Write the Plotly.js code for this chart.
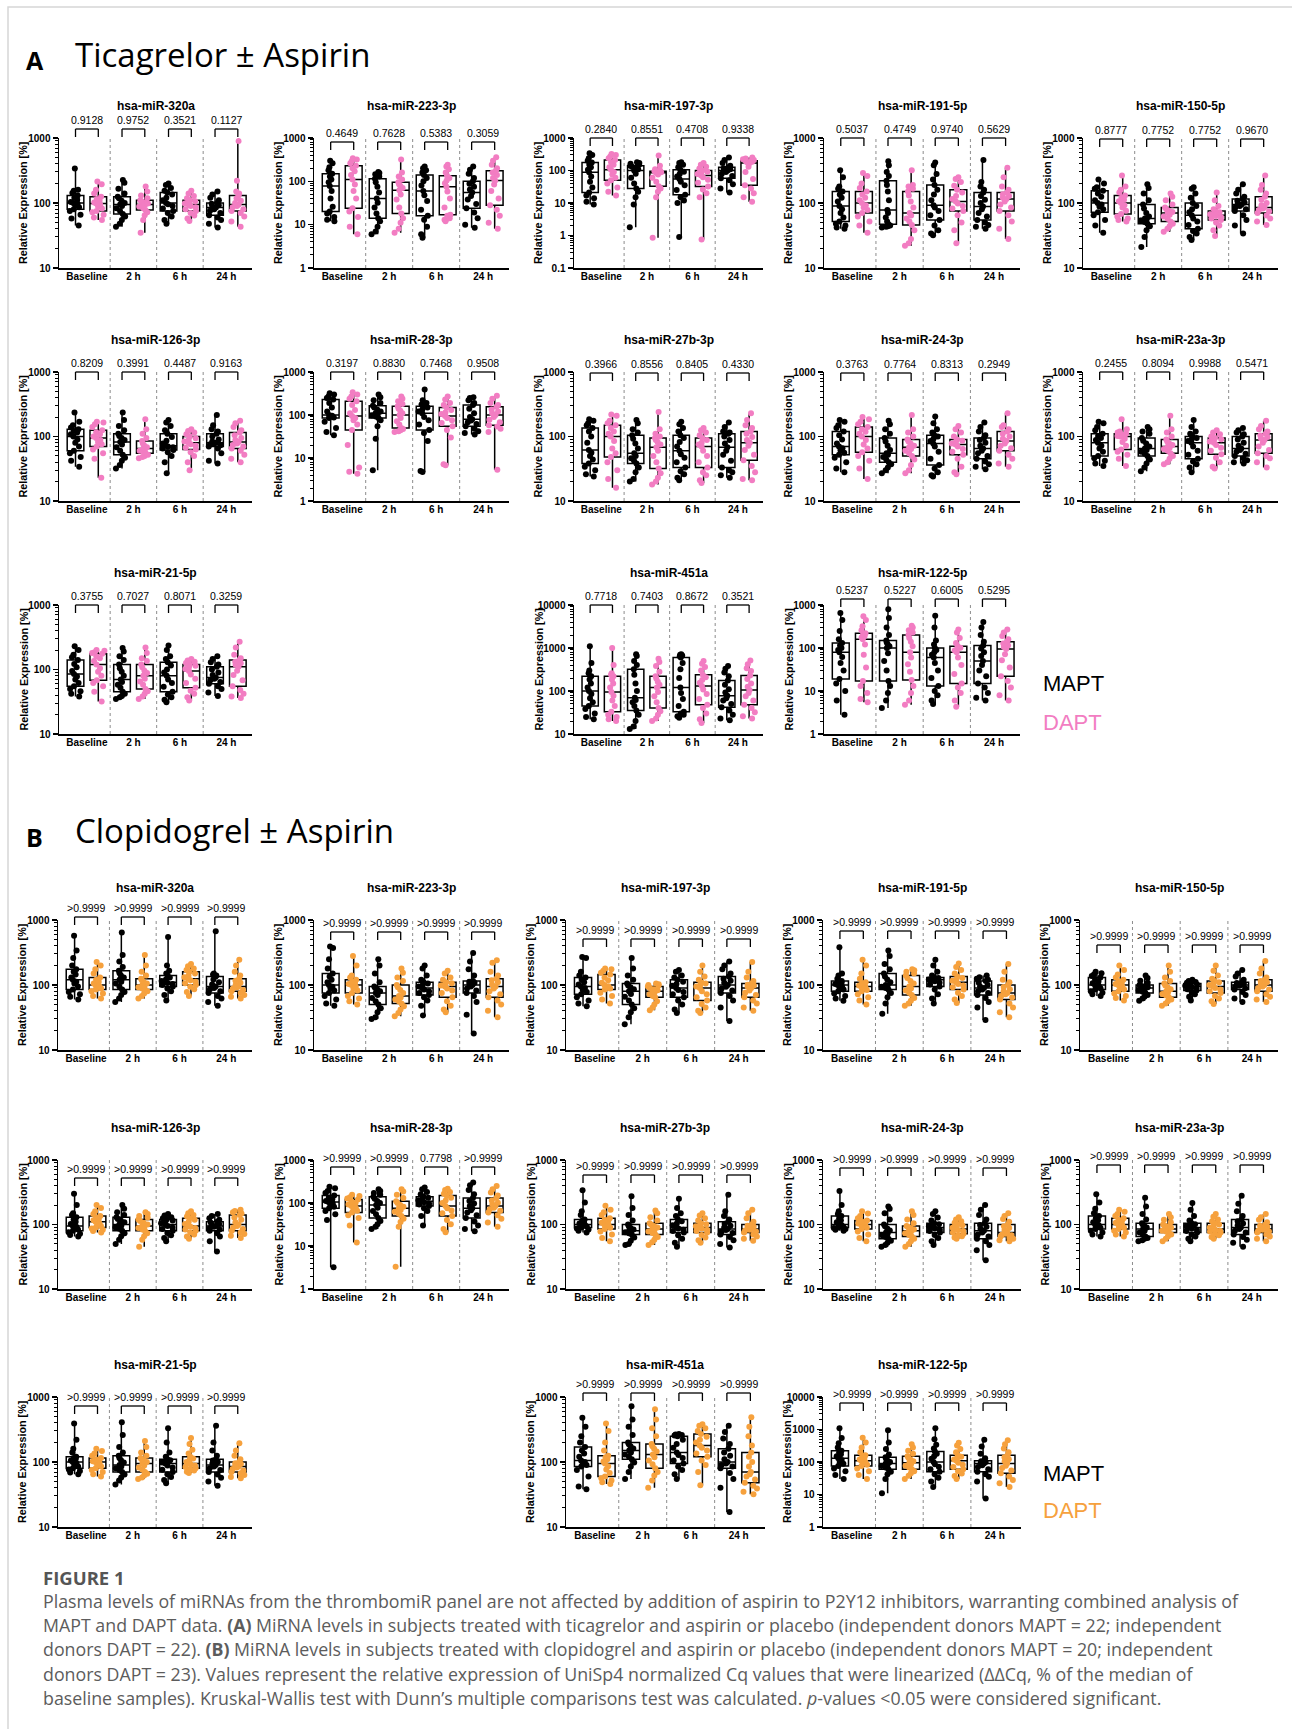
<!DOCTYPE html>
<html><head><meta charset="utf-8">
<script src="https://cdn.plot.ly/plotly-3.0.1.min.js"></script>
<style>html,body{margin:0;padding:0;background:#fff;}#chart{width:1292px;height:1729px;}</style>
</head><body><div id="chart"></div>
<script>
// ---------- categories / labels ----------
const timepoints = ["Baseline", "2 h", "6 h", "24 h"];
const groupNames = ["MAPT", "DAPT"];
const yTickVals = [0.1, 1, 10, 100, 1000, 10000];
const yTickText = ["0.1", "1", "10", "100", "1000", "10000"];

// ---------- Section A: Ticagrelor ± Aspirin ----------
const titlesA = ["hsa-miR-320a","hsa-miR-223-3p","hsa-miR-197-3p","hsa-miR-191-5p","hsa-miR-150-5p",
  "hsa-miR-126-3p","hsa-miR-28-3p","hsa-miR-27b-3p","hsa-miR-24-3p","hsa-miR-23a-3p",
  "hsa-miR-21-5p","hsa-miR-451a","hsa-miR-122-5p"];
const pvalsA = [
  ["0.9128","0.9752","0.3521","0.1127"],["0.4649","0.7628","0.5383","0.3059"],["0.2840","0.8551","0.4708","0.9338"],
  ["0.5037","0.4749","0.9740","0.5629"],["0.8777","0.7752","0.7752","0.9670"],["0.8209","0.3991","0.4487","0.9163"],
  ["0.3197","0.8830","0.7468","0.9508"],["0.3966","0.8556","0.8405","0.4330"],["0.3763","0.7764","0.8313","0.2949"],
  ["0.2455","0.8094","0.9988","0.5471"],["0.3755","0.7027","0.8071","0.3259"],["0.7718","0.7403","0.8672","0.3521"],
  ["0.5237","0.5227","0.6005","0.5295"]];
const rangesA = [[10,1000],[1,1000],[0.1,1000],[10,1000],[10,1000],[10,1000],[1,1000],[10,1000],[10,1000],[10,1000],[10,1000],[10,10000],[1,1000]];

const A_320a_MAPT = [[45,58,66,75,80,86,92,97,100,104,112,120,130,142,155,160,340],[43,48,55,62,68,75,83,90,95,100,108,118,125,140,165,205,225],[48,55,62,70,75,82,90,96,100,110,120,135,145,155,170,190,200],[42,48,55,60,65,70,76,80,85,88,92,97,100,110,120,135,150]];
const A_320a_DAPT = [[55,60,66,72,75,82,88,94,98,102,108,115,125,140,160,195,215],[35,55,65,72,78,83,88,92,95,98,102,106,110,118,130,150,180],[53,58,64,70,75,80,86,90,95,98,102,106,110,118,128,140,155],[43,52,62,70,75,80,86,90,95,100,108,118,130,140,150,220,900]];
const A_223_MAPT = [[12,13,15,18,20,26,40,60,78,95,110,130,150,180,210,260,300],[6,7,9,12,14,18,25,32,40,55,75,95,115,130,145,155,165],[5,6,9,13,16,22,35,48,60,80,100,120,140,160,180,200,220],[8.5,10,14,19,24,30,38,46,55,65,75,88,100,120,150,185,220]];
const A_223_DAPT = [[6,9,15,20,24,40,60,85,110,140,170,200,230,260,290,320,340],[6.5,8,11,14,18,25,38,50,62,70,78,86,95,110,130,160,320],[12,13,14,16,17,25,40,58,75,90,105,120,135,160,190,220,240],[8,11,16,22,28,40,60,85,105,120,140,160,175,200,240,300,360]];
const A_197_MAPT = [[9,11,14,17,21,30,45,65,88,105,125,150,175,200,240,300,340],[1.8,9,15,22,28,40,60,80,100,110,120,130,140,150,160,170,180],[0.9,10,12,15,18,25,35,45,55,65,78,92,105,125,150,170,180],[21,28,38,50,58,68,80,90,100,105,110,118,125,140,170,210,250]];
const A_197_DAPT = [[17,22,30,40,50,60,75,90,105,125,150,180,210,240,270,300,320],[0.85,15,22,28,33,45,60,75,85,88,90,92,95,100,110,140,290],[0.75,15,20,26,32,42,52,62,70,78,85,92,100,115,130,150,170],[11,15,20,28,35,55,90,130,170,180,185,190,200,210,220,235,250]];
const A_191_MAPT = [[40,42,45,48,52,60,70,80,90,105,120,135,150,165,180,250,320],[42,43,44,45,47,52,60,70,78,110,150,190,220,260,300,380,440],[32,34,38,45,55,65,75,85,92,110,135,160,190,230,280,380,420],[40,43,46,50,55,62,70,80,88,100,112,128,145,160,180,210,460]];
const A_191_DAPT = [[35,45,52,62,70,78,85,92,100,110,120,135,150,170,200,260,290],[22,24,28,38,46,52,58,64,70,85,105,130,150,165,180,190,320],[24,38,50,65,75,82,90,98,105,115,128,145,160,185,210,235,250],[28,40,52,65,75,85,95,105,115,120,128,136,145,160,180,250,350]];
const A_150_MAPT = [[35,45,55,65,72,80,88,95,100,110,125,140,155,165,175,200,230],[21,30,38,44,48,51,54,56,58,62,70,82,95,110,140,170,195],[27,30,34,37,40,46,52,58,65,72,80,90,100,120,140,165,175],[34,45,55,65,75,80,86,90,95,98,102,108,115,125,140,160,195]];
const A_150_DAPT = [[52,55,58,62,68,76,85,92,100,106,112,120,130,145,160,180,265],[36,40,44,48,52,57,62,66,70,73,76,80,85,95,110,125,140],[31,38,45,50,55,58,61,63,65,67,70,72,75,80,90,110,145],[46,52,58,64,70,74,78,82,85,92,100,112,125,140,160,190,265]];
const A_126_MAPT = [[34,42,48,55,60,70,80,90,100,108,115,122,130,138,150,170,235],[32,36,42,47,52,60,68,75,82,88,95,102,110,125,145,180,235],[27,40,50,57,62,65,68,70,72,78,86,98,110,125,145,165,180],[38,42,55,65,70,73,76,78,80,84,90,100,110,120,130,150,215]];
const A_126_DAPT = [[23,45,55,63,70,76,82,88,95,100,108,116,125,140,155,165,170],[46,48,50,52,55,58,60,62,65,68,72,78,85,95,110,130,185],[30,40,50,57,63,67,72,76,80,84,88,94,100,108,115,122,130],[40,45,52,60,65,70,74,78,82,88,95,105,115,125,140,160,175]];
const A_28_MAPT = [[34,40,50,70,85,88,92,96,100,120,150,190,230,250,270,300,320],[5.2,28,55,75,85,92,98,104,110,120,135,150,165,190,220,260,300],[4.7,5,25,38,45,60,75,90,110,120,135,150,160,175,190,220,390],[35,38,42,48,55,62,68,74,80,90,110,140,170,190,220,250,260]];
const A_28_DAPT = [[4.3,4.8,6,20,45,60,75,85,95,110,130,170,210,240,270,300,340],[40,42,44,47,50,60,72,85,100,110,125,140,160,180,210,240,270],[6.8,7.2,30,45,55,65,75,85,95,105,115,130,150,170,190,230,270],[5.3,40,48,54,58,68,78,90,100,110,120,135,155,170,190,240,280]];
const A_27b_MAPT = [[24,26,30,34,38,44,50,56,62,80,100,120,135,150,160,175,185],[20,22,28,33,38,42,46,50,55,65,78,92,105,115,130,160,180],[21,23,26,29,33,40,47,53,60,70,82,95,105,120,135,155,170],[23,25,28,30,33,42,52,60,68,78,88,100,110,115,120,140,165]];
const A_27b_DAPT = [[16,22,30,40,48,55,65,85,100,110,120,135,150,160,175,210,220],[18,20,23,27,32,40,50,60,68,75,82,88,95,100,110,130,240],[19,21,25,28,33,40,50,60,70,75,80,88,95,105,115,125,135],[21,22,28,35,43,52,62,72,80,88,98,110,120,135,150,180,230]];
const A_24_MAPT = [[28,32,40,47,52,56,61,66,70,78,90,105,120,135,150,170,180],[27,30,33,37,40,44,48,52,55,62,72,84,95,110,130,155,175],[24,25,28,32,36,45,58,70,78,85,92,100,105,115,130,160,205],[31,34,37,41,45,50,55,60,65,72,80,88,95,105,120,140,165]];
const A_24_DAPT = [[22,32,42,50,57,65,75,88,100,110,118,130,140,155,170,185,200],[27,30,36,44,50,55,60,64,68,72,78,84,90,100,115,130,215],[26,28,34,45,52,58,64,70,75,78,82,86,90,100,115,130,145],[34,38,45,52,60,66,72,78,85,92,100,110,120,130,140,150,230]];
const A_23a_MAPT = [[35,38,42,46,50,58,65,72,80,88,95,102,110,125,140,160,170],[29,33,38,44,50,54,58,62,65,70,78,86,95,110,120,130,140],[28,33,37,41,45,52,60,70,80,85,90,95,100,110,120,140,180],[38,40,43,46,50,54,58,62,65,72,80,90,100,108,115,125,135]];
const A_23a_DAPT = [[35,45,52,58,63,72,82,92,100,102,105,108,110,115,120,130,185],[37,40,45,50,55,60,64,67,70,74,78,84,90,100,115,130,210],[32,34,40,47,53,60,67,74,80,84,88,91,95,100,108,115,125],[33,40,46,50,55,62,70,80,88,93,98,104,110,120,130,145,175]];
const A_21_MAPT = [[38,42,46,50,55,62,70,78,85,95,108,122,140,155,170,200,230],[35,37,39,42,45,52,58,64,70,80,92,105,120,140,160,190,215],[31,34,37,41,45,54,62,70,80,90,100,115,130,145,160,200,235],[39,44,50,55,60,64,68,72,75,82,90,100,110,120,130,145,160]];
const A_21_DAPT = [[32,45,55,62,68,80,92,105,120,135,150,160,175,180,185,195,200],[35,38,42,46,50,58,65,72,80,88,96,108,120,135,150,180,220],[33,37,42,47,52,62,72,84,95,102,108,114,120,126,132,138,145],[36,38,42,48,55,68,82,96,110,118,125,132,140,150,170,220,270]];
const A_451_MAPT = [[22,25,30,38,45,55,68,85,100,120,150,185,220,260,300,450,1100],[13,15,20,28,35,45,55,62,70,100,150,240,320,400,500,650,720],[24,26,28,30,33,45,65,90,120,200,320,450,600,640,670,700,720],[21,23,28,35,42,50,60,68,78,92,110,140,175,220,270,330,380]];
const A_451_DAPT = [[20,22,25,28,33,45,60,78,95,120,150,185,220,240,260,400,1000],[20,23,28,34,40,55,75,95,120,140,165,195,220,280,380,470,560],[18,22,30,40,48,65,85,108,130,155,180,210,240,300,360,430,500],[23,26,32,40,48,60,75,90,105,125,150,190,230,290,340,420,510]];
const A_122_MAPT = [[2.8,6,10,15,19,30,45,62,80,90,100,115,130,160,250,450,650],[4,6,9,13,17,30,50,75,100,110,120,135,150,200,300,500,800],[5,6,8,10,13,20,30,45,60,70,80,90,100,120,150,300,560],[6,7,9,12,15,22,30,40,50,65,80,98,115,140,200,300,400]];
const A_122_DAPT = [[5.5,6.5,9,13,17,35,70,120,160,175,190,205,220,260,320,450,550],[4.8,6,9,13,18,28,42,60,80,110,140,170,200,230,260,300,330],[4.3,6,9,12,15,25,40,60,80,88,95,102,110,130,170,230,270],[6,8,12,17,22,35,52,72,95,105,115,128,140,160,190,230,270]];

// ---------- Section B: Clopidogrel ± Aspirin ----------
const titlesB = titlesA.slice();
const pvalsB = [
  [">0.9999",">0.9999",">0.9999",">0.9999"],[">0.9999",">0.9999",">0.9999",">0.9999"],[">0.9999",">0.9999",">0.9999",">0.9999"],
  [">0.9999",">0.9999",">0.9999",">0.9999"],[">0.9999",">0.9999",">0.9999",">0.9999"],[">0.9999",">0.9999",">0.9999",">0.9999"],
  [">0.9999",">0.9999","0.7798",">0.9999"],[">0.9999",">0.9999",">0.9999",">0.9999"],[">0.9999",">0.9999",">0.9999",">0.9999"],
  [">0.9999",">0.9999",">0.9999",">0.9999"],[">0.9999",">0.9999",">0.9999",">0.9999"],[">0.9999",">0.9999",">0.9999",">0.9999"],
  [">0.9999",">0.9999",">0.9999",">0.9999"]];
const rangesB = [[10,1000],[10,1000],[10,1000],[10,1000],[10,1000],[10,1000],[1,1000],[10,1000],[10,1000],[10,1000],[10,1000],[10,1000],[1,10000]];

const B_320a_MAPT = [[60,66,72,78,85,95,105,112,120,130,145,160,175,200,260,340,570],[55,62,70,78,85,95,105,112,120,130,140,152,165,190,230,290,640],[58,70,80,88,95,100,104,107,110,115,122,130,140,150,165,200,550],[48,55,62,68,75,80,86,90,95,102,110,122,135,140,145,150,670]];
const B_320a_DAPT = [[62,68,74,80,85,88,92,96,100,105,112,120,130,150,175,200,225],[62,68,74,80,85,88,92,96,100,105,110,118,125,140,160,200,290],[68,78,86,94,100,106,112,118,125,132,140,150,160,170,180,195,210],[62,66,70,75,80,84,88,92,95,100,108,116,125,140,160,200,245]];
const B_223_MAPT = [[48,52,60,68,75,82,88,94,100,110,120,135,150,180,250,370,390],[30,32,38,44,50,56,63,70,75,80,85,90,95,110,150,200,250],[34,48,58,65,70,75,80,85,90,95,100,105,110,120,140,180,200],[18,35,55,68,75,82,88,95,100,104,108,112,115,140,175,230,310]];
const B_223_DAPT = [[50,56,62,68,75,82,88,94,100,104,108,114,120,130,140,200,280],[33,37,42,47,52,56,60,64,68,75,84,92,100,115,130,155,180],[38,42,48,56,65,75,82,88,95,98,102,106,110,120,130,150,165],[32,40,50,58,65,72,80,88,95,102,110,118,125,140,160,220,240]];
const B_197_MAPT = [[47,52,58,65,72,78,84,90,95,102,110,120,130,140,160,260,270],[25,32,38,44,50,58,66,73,80,86,92,98,105,120,140,180,260],[37,42,50,58,65,72,78,84,90,97,104,112,120,130,140,160,170],[28,45,58,68,75,82,88,94,100,108,116,125,135,150,175,200,230]];
const B_197_DAPT = [[52,60,68,76,85,88,92,96,100,108,118,130,145,155,165,175,180],[41,45,50,56,65,68,72,76,80,83,86,90,95,98,100,103,105],[37,40,45,51,58,65,72,80,90,95,100,105,110,120,135,160,200],[40,45,52,58,65,70,76,82,90,94,98,101,105,115,130,160,225]];
const B_191_MAPT = [[57,62,68,74,80,85,90,95,100,104,108,112,115,125,140,150,380],[36,52,65,75,85,90,94,97,100,110,122,135,150,175,210,280,340],[52,62,72,85,95,102,108,114,120,122,125,128,130,140,160,200,245],[29,45,55,63,70,75,80,85,90,95,100,108,115,120,125,132,140]];
const B_191_DAPT = [[50,58,65,72,80,84,88,92,95,98,102,106,110,125,150,200,245],[48,52,57,63,70,76,82,88,95,105,115,128,140,150,160,168,175],[53,60,68,76,85,92,98,104,110,116,122,128,135,150,170,190,215],[32,38,45,52,60,64,68,72,75,80,86,93,100,110,120,160,210]];
const B_150_MAPT = [[68,72,76,80,85,89,93,97,100,106,113,121,130,138,145,152,160],[57,62,66,70,75,79,83,87,90,92,95,97,100,108,116,128,140],[58,66,72,77,82,86,89,92,95,97,100,102,105,108,111,115,120],[55,62,70,78,85,89,93,97,100,102,105,107,110,120,135,150,170]];
const B_150_DAPT = [[58,63,68,74,80,85,90,95,100,104,109,114,120,130,145,170,200],[48,52,56,60,65,69,73,77,80,86,92,98,105,115,130,160,200],[51,56,62,68,75,80,85,90,95,100,105,110,115,125,140,165,200],[55,60,66,72,80,85,90,95,100,105,110,115,120,130,150,180,235]];
const B_126_MAPT = [[65,69,72,76,80,84,88,92,95,102,110,120,130,140,150,200,300],[50,58,66,73,80,86,91,96,100,108,115,122,130,140,155,175,200],[55,62,68,74,80,85,90,95,100,105,110,115,120,125,130,138,145],[38,55,65,73,80,84,88,92,95,98,102,106,110,118,125,135,145]];
const B_126_DAPT = [[75,79,83,87,90,95,100,105,110,116,122,128,135,145,160,180,200],[45,58,66,73,80,84,88,92,95,100,106,113,120,128,136,145,155],[60,65,70,75,80,84,88,92,95,102,110,118,125,133,140,150,160],[62,67,71,75,80,85,90,95,100,108,118,128,140,148,155,162,170]];
const B_28_MAPT = [[3.2,40,55,65,75,82,90,98,105,112,122,135,150,170,190,220,240],[25,28,32,38,45,55,65,78,90,100,112,125,140,155,170,190,210],[30,50,65,75,85,92,98,104,110,116,124,132,140,160,180,210,230],[22,25,30,37,45,52,60,68,75,85,98,112,130,160,200,260,300]];
const B_28_DAPT = [[12,30,45,52,60,66,72,78,85,92,100,110,120,128,136,145,155],[3.3,28,36,43,50,56,63,69,75,82,90,100,110,130,155,185,210],[21,25,32,40,50,58,67,76,85,100,115,132,150,165,180,200,215],[28,35,43,52,60,66,72,78,85,93,102,115,130,150,175,210,250]];
const B_27b_MAPT = [[75,80,84,87,90,93,95,98,100,104,108,114,120,140,160,220,340],[48,50,56,63,70,73,76,78,80,84,88,94,100,115,140,180,275],[45,52,60,68,75,79,83,87,90,97,104,112,120,135,150,180,250],[44,50,57,64,70,74,78,82,85,90,96,103,110,120,135,160,290]];
const B_27b_DAPT = [[55,62,70,78,85,89,93,97,100,106,112,118,125,140,155,170,195],[48,53,58,64,70,74,78,82,85,90,95,100,105,115,130,150,165],[52,57,63,69,75,79,83,87,90,94,98,101,105,115,125,138,150],[56,60,65,70,75,78,81,83,85,89,93,96,100,110,125,150,170]];
const B_24_MAPT = [[80,83,85,88,90,93,96,98,100,108,116,125,135,145,160,200,330],[45,48,52,56,60,64,68,72,75,81,87,94,100,120,150,175,190],[48,55,62,69,75,79,83,87,90,94,98,101,105,115,128,145,160],[28,40,48,55,60,65,70,75,80,86,92,98,105,120,140,170,200]];
const B_24_DAPT = [[55,62,70,78,85,89,93,97,100,104,108,112,115,125,135,148,160],[45,50,55,60,65,69,73,77,80,84,88,92,95,105,120,140,160],[60,63,66,69,72,75,79,82,85,89,93,97,100,106,112,120,130],[55,57,60,62,65,68,70,72,75,82,88,94,100,110,122,136,150]];
const B_23a_MAPT = [[65,70,75,80,85,89,93,97,100,108,116,125,135,150,175,220,295],[55,57,60,62,65,70,75,80,85,90,95,100,105,120,145,190,260],[55,60,65,70,75,79,83,87,90,94,98,101,105,115,135,170,215],[45,52,58,64,70,75,80,85,90,97,104,112,120,135,160,210,280]];
const B_23a_DAPT = [[65,70,75,80,85,89,93,97,100,106,112,118,125,135,145,158,170],[55,60,65,70,75,78,80,83,85,89,93,96,100,108,118,130,145],[60,64,68,72,75,78,80,83,85,90,95,100,105,112,120,132,145],[55,60,65,70,75,78,80,83,85,89,92,96,100,108,118,130,145]];
const B_21_MAPT = [[65,69,73,77,80,85,90,95,100,105,110,115,120,140,160,220,390],[45,52,58,64,70,75,80,85,90,98,106,115,125,140,170,260,410],[47,53,59,65,70,76,82,88,95,98,102,106,110,120,140,200,330],[43,50,57,64,70,75,80,85,90,95,100,105,110,125,150,200,360]];
const B_21_DAPT = [[60,65,70,75,80,85,90,95,100,103,106,110,115,125,135,148,160],[55,58,62,66,70,76,82,88,95,100,105,110,115,125,140,170,210],[68,71,74,77,80,84,88,92,95,100,106,113,120,135,155,190,235],[56,59,63,67,70,74,78,82,85,89,93,96,100,110,125,150,195]];
const B_451_MAPT = [[38,42,60,75,85,90,95,100,105,120,135,150,170,200,250,350,480],[55,70,85,98,110,120,130,140,150,162,175,188,200,260,350,450,720],[55,65,75,85,95,105,115,128,140,165,190,220,250,255,260,265,270],[17,40,55,68,80,85,90,95,100,110,125,140,160,190,230,290,360]];
const B_451_DAPT = [[46,49,52,56,60,68,77,86,95,102,110,118,125,150,200,300,390],[40,52,62,70,80,92,105,118,130,145,160,175,190,250,330,450,650],[44,70,90,105,120,135,150,165,180,200,220,245,270,300,330,360,380],[32,35,39,43,48,54,60,65,70,85,100,120,140,180,250,350,490]];
const B_122_MAPT = [[30,40,52,63,75,88,100,115,130,150,172,195,220,280,380,550,1100],[11,30,42,50,60,68,75,82,90,100,112,125,140,170,250,400,950],[17,25,33,42,50,60,72,85,100,125,150,180,210,260,340,500,1100],[7.5,25,35,42,50,60,70,80,90,95,100,105,110,130,180,300,480]];
const B_122_DAPT = [[30,40,52,63,75,83,92,100,110,120,132,145,160,200,280,400,560],[30,38,45,52,60,68,76,85,95,105,118,133,150,180,220,280,350],[30,37,44,52,60,70,82,95,110,120,132,145,160,200,250,320,390],[17,22,28,36,45,55,65,77,90,105,122,140,160,200,260,350,470]];

const dataA_MAPT = [A_320a_MAPT,A_223_MAPT,A_197_MAPT,A_191_MAPT,A_150_MAPT,A_126_MAPT,A_28_MAPT,A_27b_MAPT,A_24_MAPT,A_23a_MAPT,A_21_MAPT,A_451_MAPT,A_122_MAPT];
const dataA_DAPT = [A_320a_DAPT,A_223_DAPT,A_197_DAPT,A_191_DAPT,A_150_DAPT,A_126_DAPT,A_28_DAPT,A_27b_DAPT,A_24_DAPT,A_23a_DAPT,A_21_DAPT,A_451_DAPT,A_122_DAPT];
const dataB_MAPT = [B_320a_MAPT,B_223_MAPT,B_197_MAPT,B_191_MAPT,B_150_MAPT,B_126_MAPT,B_28_MAPT,B_27b_MAPT,B_24_MAPT,B_23a_MAPT,B_21_MAPT,B_451_MAPT,B_122_MAPT];
const dataB_DAPT = [B_320a_DAPT,B_223_DAPT,B_197_DAPT,B_191_DAPT,B_150_DAPT,B_126_DAPT,B_28_DAPT,B_27b_DAPT,B_24_DAPT,B_23a_DAPT,B_21_DAPT,B_451_DAPT,B_122_DAPT];

// ---------- layout (pixel geometry, styles) ----------
const W = 1292, H = 1729;
const PX = v => v / W, PY = v => 1 - v / H;
const slots = [[0,0],[1,0],[2,0],[3,0],[4,0],[0,1],[1,1],[2,1],[3,1],[4,1],[0,2],[2,2],[3,2]];
const colsA = [[59,252],[314,509],[574,763],[824,1020],[1083,1278]];
const rowsA = [[138,268],[372,501],[605,734]];
const colsB = [[58,252],[314,509],[566,765],[823,1021],[1080,1278]];
const rowsB = [[920,1050],[1160,1289],[1397,1527]];
const bracketA = [-9,4,0,0,1,0,0,1,1,0,0,0,-6];
const bracketB = [-3,12,19,11,25,18,7,15,8,5,9,-4,6];
const XRANGE = [-0.6, 3.55];
const BOXGAP = 0.02, OFF = (1 - BOXGAP) / 4;
const FONT = "Liberation Sans, Arial, sans-serif";
const HEAD = "Open Sans, Noto Sans, sans-serif";

const sections = [
  {titles:titlesA, pvals:pvalsA, ranges:rangesA, mapt:dataA_MAPT, dapt:dataA_DAPT, color:"#F27DC2", cols:colsA, rows:rowsA, brk:bracketA},
  {titles:titlesB, pvals:pvalsB, ranges:rangesB, mapt:dataB_MAPT, dapt:dataB_DAPT, color:"#F6A13D", cols:colsB, rows:rowsB, brk:bracketB}
];

function quant(arr, p) {
  const s = arr.slice().sort((a, b) => a - b);
  const h = (s.length - 1) * p, lo = Math.floor(h), hi = Math.min(lo + 1, s.length - 1);
  return s[lo] + (s[hi] - s[lo]) * (h - lo);
}
function minorVals(lo, hi) {
  const out = [];
  for (let d = Math.round(Math.log10(lo)); d < Math.round(Math.log10(hi)); d++)
    for (let k = 2; k <= 9; k++) out.push(Number((k * Math.pow(10, d)).toPrecision(6)));
  return out;
}

const traces = [], annotations = [], shapes = [];
const layout = {
  width: W, height: H, margin: {l:0, r:0, t:0, b:0}, paper_bgcolor: "#fff", plot_bgcolor: "rgba(0,0,0,0)",
  showlegend: false, boxmode: "group", boxgap: BOXGAP, boxgroupgap: 0.27,
  font: {family: FONT, color: "#000"}
};

let n = 0;
sections.forEach(sec => {
  sec.titles.forEach((title, i) => {
    n++;
    const sfx = n === 1 ? "" : String(n);
    const xa = "x" + sfx, ya = "y" + sfx;
    const [c, r] = slots[i];
    const [xl, xr] = sec.cols[c];
    const [yt, yb] = sec.rows[r];
    const [lo, hi] = sec.ranges[i];
    layout["xaxis" + sfx] = {
      domain: [PX(xl), PX(xr)], anchor: ya, type: "category", categoryarray: timepoints,
      range: XRANGE, showline: true, linecolor: "#000", linewidth: 1.5, ticks: "",
      showgrid: false, zeroline: false, fixedrange: true, ticklabelstandoff: -2,
      tickfont: {family: FONT, size: 10, color: "#000", weight: "bold"}
    };
    layout["yaxis" + sfx] = {
      domain: [PY(yb), PY(yt)], anchor: xa, type: "log", range: [Math.log10(lo), Math.log10(hi)],
      tickmode: "array", tickvals: yTickVals, ticktext: yTickText,
      ticks: "outside", ticklen: 5, tickwidth: 1.3, tickcolor: "#000",
      minor: {ticks: "outside", ticklen: 3, tickwidth: 1, tickcolor: "#000", tickmode: "array", tickvals: minorVals(lo, hi), showgrid: false},
      showline: true, linecolor: "#000", linewidth: 1.5, showgrid: false, zeroline: false, fixedrange: true,
      tickfont: {family: FONT, size: 10, color: "#000", weight: "bold"}
    };
    const series = [[sec.mapt[i], "#000000", groupNames[0]], [sec.dapt[i], sec.color, groupNames[1]]];
    // boxes (min-to-max whiskers)
    series.forEach(([vals, col, g]) => {
      traces.push({
        type: "box", xaxis: xa, yaxis: ya, offsetgroup: g, name: g, x: timepoints,
        q1: vals.map(v => quant(v, 0.25)), median: vals.map(v => quant(v, 0.5)), q3: vals.map(v => quant(v, 0.75)),
        lowerfence: vals.map(v => Math.min(...v)), upperfence: vals.map(v => Math.max(...v)),
        boxpoints: false, line: {color: "#000", width: 1.5}, fillcolor: "rgba(0,0,0,0)", whiskerwidth: 0,
        hoverinfo: "skip"
      });
    });
    // points
    series.forEach(([vals, col, g]) => {
      const xs = [], ys = [];
      vals.forEach((v, k) => v.forEach(y => { xs.push(timepoints[k]); ys.push(y); }));
      traces.push({
        type: "box", xaxis: xa, yaxis: ya, offsetgroup: g, name: g, x: xs, y: ys,
        boxpoints: "all", jitter: 0.85, pointpos: 0, line: {color: "rgba(0,0,0,0)", width: 0},
        fillcolor: "rgba(0,0,0,0)", whiskerwidth: 0, marker: {color: col, size: 6, line: {width: 0}}
      });
    });
    // dashed separators
    [0.5, 1.5, 2.5].forEach(xp => shapes.push({type: "line", xref: xa, yref: "paper", x0: xp, x1: xp, y0: PY(yb), y1: PY(yt),
      line: {color: "#8c8c8c", width: 1, dash: "3px,3px"}}));
    // brackets + p-values
    const bt = yt + sec.brk[i], bb = bt + 8;
    timepoints.forEach((tp, k) => {
      const x1 = k - OFF, x2 = k + OFF;
      const ln = {color: "#000", width: 1.3};
      shapes.push({type: "line", xref: xa, yref: "paper", x0: x1, x1: x2, y0: PY(bt), y1: PY(bt), line: ln});
      shapes.push({type: "line", xref: xa, yref: "paper", x0: x1, x1: x1, y0: PY(bt), y1: PY(bb), line: ln});
      shapes.push({type: "line", xref: xa, yref: "paper", x0: x2, x1: x2, y0: PY(bt), y1: PY(bb), line: ln});
      annotations.push({xref: xa, yref: "paper", x: k, y: PY(bt - 9), text: sec.pvals[i][k], showarrow: false,
        xanchor: "center", yanchor: "middle", font: {family: FONT, size: 10.5, color: "#000"}});
    });
    // panel title and y-axis title
    annotations.push({xref: "paper", yref: "paper", x: PX((xl + xr) / 2), y: PY(yt - 32), text: "<b>" + title + "</b>",
      showarrow: false, xanchor: "center", yanchor: "middle", font: {family: FONT, size: 12, color: "#000"}});
    annotations.push({xref: "paper", yref: "paper", x: PX(xl - 36), y: PY((yt + yb) / 2), text: "<b>Relative Expression [%]</b>",
      textangle: -90, showarrow: false, xanchor: "center", yanchor: "middle", font: {family: FONT, size: 10.8, color: "#000"}});
  });
});

// section headers
const headers = [["A", "Ticagrelor ± Aspirin", 54], ["B", "Clopidogrel ± Aspirin", 831]];
headers.forEach(([letter, txt, y]) => {
  annotations.push({xref: "paper", yref: "paper", x: PX(24), y: PY(y + 6), text: "<b>" + letter + "</b>", showarrow: false,
    xanchor: "left", yanchor: "middle", font: {family: HEAD, size: 25, color: "#000"}});
  annotations.push({xref: "paper", yref: "paper", x: PX(73), y: PY(y), text: txt, showarrow: false,
    xanchor: "left", yanchor: "middle", font: {family: HEAD, size: 33, color: "#000"}});
});
// legends
[[683, 722, "#F27DC2"], [1473, 1510, "#F6A13D"]].forEach(([y1, y2, col]) => {
  annotations.push({xref: "paper", yref: "paper", x: PX(1041), y: PY(y1), text: groupNames[0], showarrow: false,
    xanchor: "left", yanchor: "middle", font: {family: FONT, size: 22, color: "#000"}});
  annotations.push({xref: "paper", yref: "paper", x: PX(1041), y: PY(y2), text: groupNames[1], showarrow: false,
    xanchor: "left", yanchor: "middle", font: {family: FONT, size: 22, color: col}});
});
// caption
const captionLines = [
  "Plasma levels of miRNAs from the thrombomiR panel are not affected by addition of aspirin to P2Y12 inhibitors, warranting combined analysis of",
  "MAPT and DAPT data. <b>(A)</b> MiRNA levels in subjects treated with ticagrelor and aspirin or placebo (independent donors MAPT = 22; independent",
  "donors DAPT = 22). <b>(B)</b> MiRNA levels in subjects treated with clopidogrel and aspirin or placebo (independent donors MAPT = 20; independent",
  "donors DAPT = 23). Values represent the relative expression of UniSp4 normalized Cq values that were linearized (ΔΔCq, % of the median of",
  "baseline samples). Kruskal-Wallis test with Dunn’s multiple comparisons test was calculated. <i>p</i>-values &lt;0.05 were considered significant."
];
annotations.push({xref: "paper", yref: "paper", x: PX(41), y: PY(1577), text: "<b>FIGURE 1</b>", showarrow: false,
  xanchor: "left", yanchor: "middle", font: {family: HEAD, size: 18.5, color: "#555"}});
captionLines.forEach((t, k) => annotations.push({xref: "paper", yref: "paper", x: PX(41), y: PY(1601 + k * 24.2), text: t,
  showarrow: false, xanchor: "left", yanchor: "middle", font: {family: HEAD, size: 17.8, color: "#5c5c5c"}}));

// frame
shapes.push({type: "rect", xref: "paper", yref: "paper", x0: PX(8), x1: PX(1310), y0: PY(7), y1: PY(1760),
  line: {color: "#d6d6d6", width: 1.5}, fillcolor: "rgba(0,0,0,0)"});

layout.annotations = annotations;
layout.shapes = shapes;
Plotly.newPlot("chart", traces, layout, {staticPlot: true, displayModeBar: false});
</script>
</body></html>
